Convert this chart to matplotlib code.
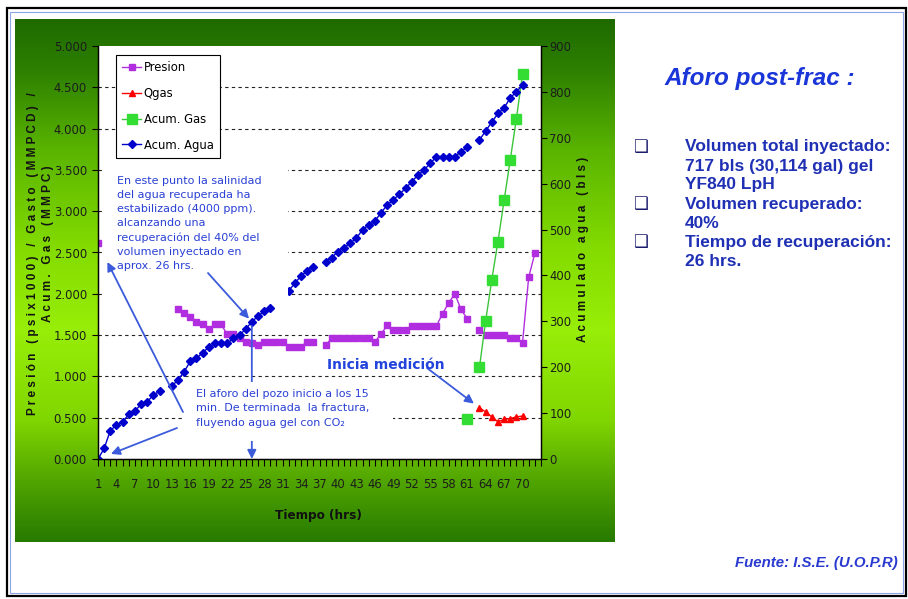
import numpy as np
import matplotlib
matplotlib.use("Agg")
import matplotlib.pyplot as plt
from matplotlib import font_manager as fm
from matplotlib.patches import Rectangle

nan = np.nan

# ---- datos ----
tiempo = np.arange(1, 73)

presion = ([2.61] + [nan] * 12 +
           [1.81, 1.77, 1.72, 1.66, 1.63, 1.57, 1.63, 1.63, 1.51, 1.51, 1.46, 1.42,
            1.41, 1.38, 1.42, 1.42, 1.42, 1.42, 1.36, 1.36, 1.36, 1.42, 1.42] +
           [nan] +
           [1.38, 1.46, 1.46, 1.46, 1.46, 1.46, 1.46, 1.46, 1.42, 1.51, 1.62, 1.56,
            1.56, 1.56, 1.61, 1.61, 1.61, 1.61, 1.61, 1.76, 1.89, 2.00, 1.81, 1.70] +
           [nan] +
           [1.56, 1.50, 1.50, 1.50, 1.50, 1.46, 1.46, 1.41, 2.20, 2.49])

qgas = [nan] * 62 + [0.62, 0.57, 0.51, 0.45, 0.48, 0.49, 0.51, 0.52] + [nan] * 2

acum_gas = [nan] * 60 + [0.48, nan, 1.11, 1.67, 2.17, 2.63, 3.13, 3.62, 4.12, 4.66] + [nan] * 2

acum_agua = ([0, 23, 62, 74, 81, 97, 105, 119, 125, 139, 148] + [nan] +
             [158, 173, 190, 213, 220, 231, 244, 252, 252, 252, 263, 270, 283, 299,
              311, 322, 328] + [nan, nan] +
             [367, 383, 399, 410, 419] + [nan] +
             [430, 439, 452, 460, 471, 481, 500, 510, 518, 537, 553, 565, 577, 590,
              604, 619, 630, 644, 659, 659, 659, 659, 670, 679] + [nan] +
             [695, 715, 734, 753, 765, 787, 800, 815] + [nan, nan])

yticks_izq = np.arange(0, 5.01, 0.5)
yticks_der = np.arange(0, 901, 100)
xticks_lab = np.arange(1, 71, 3)

nota_salinidad = ("En este punto la salinidad\ndel agua recuperada ha\n"
                  "estabilizado (4000 ppm).\nalcanzando una\n"
                  "recuperación del 40% del\nvolumen inyectado en\naprox. 26 hrs.")
nota_aforo = ("El aforo del pozo inicio a los 15\nmin. De terminada  la fractura,\n"
              "fluyendo agua gel con CO₂")
resumen = [
    ["Volumen total inyectado:", "717 bls (30,114 gal) gel", "YF840 LpH"],
    ["Volumen recuperado:", "40%"],
    ["Tiempo de recuperación:", "26 hrs."],
]

# fuente angosta para los ejes (tipo Arial Narrow) si esta disponible
fuentes = fm.fontManager.ttflist
if any(f.name == "Liberation Sans Narrow" for f in fuentes):
    angosta = dict(family="Liberation Sans Narrow", stretch="normal")
    esc = 1.0
elif any(f.name == "DejaVu Sans" and "condensed" in str(f.stretch) for f in fuentes):
    angosta = dict(family="DejaVu Sans", stretch="condensed")
    esc = 0.88
else:
    angosta = dict(family="Liberation Sans", stretch="normal")
    esc = 0.85
plt.rcParams["font.family"] = [angosta["family"], "DejaVu Sans"]
plt.rcParams["font.stretch"] = angosta["stretch"]

W, H = 908, 599
fig = plt.figure(figsize=(W / 100, H / 100), dpi=100)

# fondo verde degradado del recuadro de la grafica
bg = fig.add_axes([0, 0, 1, 1])
gy = [19, 70, 150, 250, 330, 420, 480, 542]
gc = np.array([(30, 106, 0), (45, 128, 0), (90, 180, 0), (132, 220, 0),
               (152, 238, 8), (128, 214, 0), (82, 166, 0), (38, 122, 0)]) / 255
yy = np.arange(19, 543)
grad = np.stack([np.interp(yy, gy, gc[:, k]) for k in range(3)], axis=-1)[:, None, :]
bg.imshow(grad, extent=(15, 615, 542, 19), aspect="auto", interpolation="bilinear")
bg.add_patch(Rectangle((7, 8), 899, 588, fill=False, ec="black", lw=1.6))
bg.add_patch(Rectangle((10, 12), 893, 581, fill=False, ec="#8aa4e6", lw=0.8))
bg.set_xlim(0, W)
bg.set_ylim(H, 0)
bg.axis("off")


def caja(x0, y0, x1, y1):
    return [x0 / W, 1 - y1 / H, (x1 - x0) / W, (y1 - y0) / H]


ax = fig.add_axes(caja(98, 46, 541, 459))
ax.set_facecolor("white")
ax2 = ax.twinx()

for v in yticks_izq[1:-1]:
    ax.axhline(v, color="#222222", lw=0.8, ls=(0, (3, 3)), zorder=0)

ax.plot(tiempo, presion, color="#b12ee0", marker="s", ms=4, lw=1, label="Presion")
ax.plot(tiempo, qgas, color="#ff0000", marker="^", ms=4.5, lw=1, label="Qgas")
ax.plot(tiempo, acum_gas, color="#3cc43c", marker="s", ms=6.5, mfc="#33dd33", mec="#33dd33",
        lw=1, label="Acum. Gas")
ax2.plot(tiempo, acum_agua, color="#0000cc", marker="D", ms=3.6, lw=1, label="Acum. Agua")

ax.set_xlim(1, 73)
ax.set_ylim(0, 5)
ax2.set_ylim(0, 900)
ax.set_yticks(yticks_izq)
ax.set_yticklabels([f"{v:.3f}" for v in yticks_izq])
ax2.set_yticks(yticks_der)
ax.set_xticks(xticks_lab)
ax.set_xticks(tiempo.tolist() + [73], minor=True)

tc = "#1c1c1c"
ax.tick_params(axis="x", which="both", direction="out", length=5, width=0.8,
               pad=9, labelsize=10.5 * esc, labelcolor=tc)
ax.tick_params(axis="y", direction="out", length=4, width=0.8, pad=4,
               labelsize=10.5 * esc, labelcolor=tc)
ax2.tick_params(axis="y", direction="out", length=4, width=0.8, pad=2,
                labelsize=10.5 * esc, labelcolor=tc)
for a in (ax, ax2):
    a.spines["top"].set_visible(False)
    for s in ("left", "right", "bottom"):
        a.spines[s].set_linewidth(0.9)

h1, l1 = ax.get_legend_handles_labels()
h2, l2 = ax2.get_legend_handles_labels()
leg = ax2.legend(h1 + h2, l1 + l2, loc="upper left",
                 bbox_to_anchor=(116 / W, 1 - 55 / H), bbox_transform=fig.transFigure,
                 frameon=True, fancybox=False, edgecolor="black", framealpha=1,
                 fontsize=10.5 * esc, handlelength=1.45, handletextpad=0.2,
                 labelspacing=1.0, borderpad=0.5, borderaxespad=0)
leg.get_frame().set_linewidth(0.8)

# capa de anotaciones en pixeles
ov = fig.add_axes([0, 0, 1, 1])
ov.set_xlim(0, W)
ov.set_ylim(H, 0)
ov.axis("off")

azul = "#3b5bdb"
flecha = dict(arrowstyle="-|>", color=azul, lw=1.3, mutation_scale=13)

ov.annotate("", xy=(26, 0), xycoords=ax.transData,
            xytext=(26, acum_agua[25]), textcoords=ax2.transData,
            arrowprops=dict(flecha, shrinkA=3, shrinkB=0), zorder=1)

ov.add_patch(Rectangle((104, 166), 184, 132, fc="white", ec="none", zorder=2))
ov.add_patch(Rectangle((182, 382), 211, 59, fc="white", ec="none", zorder=2))

ov.annotate("", xy=(26, acum_agua[25]), xycoords=ax2.transData,
            xytext=(208, 273), textcoords=ov.transData,
            arrowprops=dict(flecha, shrinkA=0, shrinkB=3), zorder=3)
ov.annotate("", xy=(1, presion[0]), xycoords=ax.transData,
            xytext=(183, 412), textcoords=ov.transData,
            arrowprops=dict(flecha, shrinkA=0, shrinkB=15), zorder=3)
ov.annotate("", xy=(1, 0), xycoords=ax.transData,
            xytext=(177, 428), textcoords=ov.transData,
            arrowprops=dict(flecha, shrinkA=0, shrinkB=10), zorder=3)
ov.annotate("", xy=(63, qgas[62]), xycoords=ax.transData,
            xytext=(427, 368), textcoords=ov.transData,
            arrowprops=dict(flecha, shrinkA=0, shrinkB=5), zorder=3)

normal = dict(family="DejaVu Sans", stretch="normal")
ov.text(117, 176, nota_salinidad, ha="left", va="top", fontsize=8, color="#2a40d4",
        linespacing=1.5, zorder=4, **normal)
ov.text(196, 389, nota_aforo, ha="left", va="top", fontsize=8, color="#2a40d4",
        linespacing=1.55, zorder=4, **normal)
ov.text(327, 365, "Inicia medición", ha="left", va="center", fontsize=10,
        weight="bold", color="#2244dd", zorder=4, **normal)

ov.text(318, 515, "Tiempo (hrs)", ha="center", va="center", fontsize=11 * esc,
        weight="bold", color="#111111")


def espaciado(s):
    return " ".join(s)


ejes_txt = dict(rotation=90, ha="center", va="center", fontsize=8.5, weight="bold",
                color="#141414", family="Liberation Sans", stretch="normal")
ov.text(33, 254, espaciado("Presión (psix1000) / Gasto (MMPCD) /"), **ejes_txt)
ov.text(48, 244, espaciado("Acum. Gas (MMPC)"), **ejes_txt)
ov.text(583, 249, espaciado("Acumulado agua (bls)"), **ejes_txt)

# texto del lado derecho
arial = dict(family="Liberation Sans", stretch="normal")
ov.text(760, 78, "Aforo post-frac :", ha="center", va="center", fontsize=17.5,
        weight="bold", style="italic", color="#1a35d8", **arial)
y = 147
for item in resumen:
    ov.text(640, y, "❑", ha="center", va="center", fontsize=12, color="#1c1c6e", **normal)
    for linea in item:
        ov.text(685, y, linea, ha="left", va="center", fontsize=12.5, weight="bold",
                color="#1f30b4", **arial)
        y += 19
ov.text(898, 563, "Fuente: I.S.E. (U.O.P.R)", ha="right", va="center", fontsize=10.8,
        weight="bold", style="italic", color="#2a3ad0", **arial)

fig.savefig("out.png", dpi=100)
